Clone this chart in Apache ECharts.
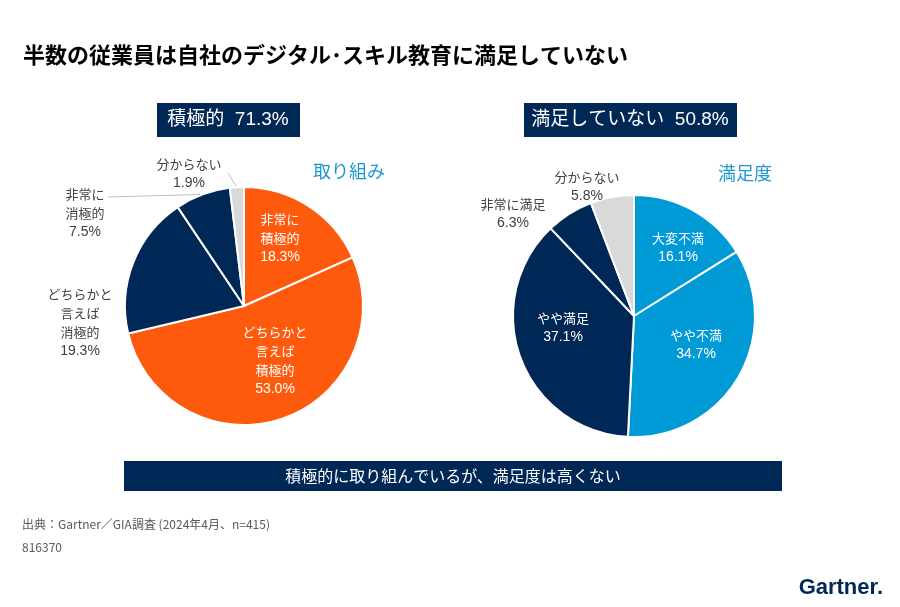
<!DOCTYPE html>
<html>
<head>
<meta charset="utf-8">
<script src="https://cdn.jsdelivr.net/npm/echarts@6/dist/echarts.min.js"></script>
<style>
  html, body { margin: 0; padding: 0; background: #fff; }
  #chart { width: 900px; height: 607px; }
</style>
</head>
<body>
<div id="chart"></div>
<script>
// 取り組み (left pie), clockwise from 12 o'clock
let effortNames = ['非常に\n積極的', 'どちらかと\n言えば\n積極的', 'どちらかと\n言えば\n消極的', '非常に\n消極的', '分からない'];
let effortValues = [18.3, 53.0, 19.3, 7.5, 1.9];

// 満足度 (right pie)
let satisNames = ['大変不満', 'やや不満', 'やや満足', '非常に満足', '分からない'];
let satisValues = [16.1, 34.7, 37.1, 6.3, 5.8];

let effortHeader = '積極的  71.3%';
let satisHeader = '満足していない  50.8%';

const ORANGE = '#FE5A0E';
const NAVY = '#002856';
const BLUE = '#009AD7';
const GRAY = '#D9D9D9';
const LABEL_GRAY = '#404040';
const FONT = '"Noto Sans CJK JP", "Noto Sans", sans-serif';
const MIXED = '"Liberation Sans", "Noto Sans CJK JP", sans-serif';

// colours / label placement per slice (layout only, not data)
let effortColors = [ORANGE, ORANGE, NAVY, NAVY, GRAY];
let effortInside = [true, true, false, false, false];
let effortLabelPos = [[280, 238], [275, 361], [80, 323], [85, 213], [189, 174]];
// leader line start (label side) for the slices that have one
let effortLineFrom = [null, null, null, [108, 197], [228, 173]];

let satisColors = [BLUE, BLUE, NAVY, NAVY, GRAY];
let satisInside = [true, true, true, false, false];
let satisLabelPos = [[678, 248], [696, 345], [563, 328], [513, 214], [587, 187]];
let satisLineFrom = [null, null, null, null, null];

function buildData(names, values, colors, inside, lineFrom) {
    let out = [];
    for (let i = 0; i < names.length; i++) {
        let c = inside[i] ? '#fff' : LABEL_GRAY;
        out.push({
            name: names[i],
            value: values[i],
            itemStyle: { color: colors[i] },
            label: { rich: { n: { color: c }, v: { color: c } } },
            labelLine: { show: !!lineFrom[i] }
        });
    }
    return out;
}

// point on the outer edge at the middle of slice i
function edgePoint(values, i, center, radius) {
    let total = values.reduce((a, b) => a + b, 0);
    let before = 0;
    for (let k = 0; k < i; k++) before += values[k];
    let ang = (before + values[i] / 2) / total * Math.PI * 2;
    return [center[0] + radius * Math.sin(ang), center[1] - radius * Math.cos(ang)];
}

function pieSeries(name, center, radius, values, data, labelPos, lineFrom) {
    return {
        name: name,
        type: 'pie',
        center: center,
        radius: radius,
        startAngle: 90,
        clockwise: true,
        animation: false,
        silent: true,
        itemStyle: { borderColor: '#fff', borderWidth: 2 },
        label: {
            show: true,
            position: 'outside',
            align: 'center',
            lineHeight: 19,
            formatter: p => p.name.split('\n').map(s => '{n|' + s + '}').join('\n') +
                '\n{v|' + p.value.toFixed(1) + '%}',
            rich: {
                n: { fontFamily: FONT, fontSize: 13, lineHeight: 19, align: 'center' },
                v: { fontFamily: MIXED, fontSize: 14, lineHeight: 19, align: 'center' }
            }
        },
        labelLine: {
            show: false,
            lineStyle: { color: '#BFBFBF', width: 1 }
        },
        labelLayout: function (params) {
            let i = params.dataIndex;
            let pos = labelPos[i];
            let res = { x: pos[0], y: pos[1], align: 'center', verticalAlign: 'middle' };
            if (lineFrom[i]) {
                let e = edgePoint(values, i, center, radius);
                res.labelLinePoints = [lineFrom[i], lineFrom[i], e];
            }
            return res;
        },
        data: data
    };
}

let chart = echarts.init(document.getElementById('chart'));
chart.setOption({
    backgroundColor: '#fff',
    animation: false,
    graphic: [
        {
            type: 'text', left: 23, top: 44,
            style: { text: '半数の従業員は自社のデジタル･スキル教育に満足していない', font: 'bold 22px ' + FONT, fill: '#000' }
        },
        { type: 'rect', shape: { x: 157, y: 103, width: 143, height: 34 }, style: { fill: NAVY } },
        {
            type: 'text', x: 228, y: 120,
            style: { text: effortHeader, font: '19px ' + MIXED, fill: '#fff', align: 'center', verticalAlign: 'middle' }
        },
        { type: 'rect', shape: { x: 524, y: 103, width: 213, height: 34 }, style: { fill: NAVY } },
        {
            type: 'text', x: 630, y: 120,
            style: { text: satisHeader, font: '19px ' + MIXED, fill: '#fff', align: 'center', verticalAlign: 'middle' }
        },
        {
            type: 'text', x: 349, y: 171,
            style: { text: '取り組み', font: '18px ' + FONT, fill: '#1F97D4', align: 'center', verticalAlign: 'middle' }
        },
        {
            type: 'text', x: 745, y: 173,
            style: { text: '満足度', font: '18px ' + FONT, fill: '#1F97D4', align: 'center', verticalAlign: 'middle' }
        },
        { type: 'rect', shape: { x: 124, y: 461, width: 658, height: 30 }, style: { fill: NAVY } },
        {
            type: 'text', x: 453, y: 476,
            style: { text: '積極的に取り組んでいるが、満足度は高くない', font: '16px ' + FONT, fill: '#fff', align: 'center', verticalAlign: 'middle' }
        },
        {
            type: 'text', x: 22, y: 524,
            style: { text: '出典：Gartner／GIA調査 (2024年4月、n=415)', font: '12px ' + FONT, fill: '#595959', verticalAlign: 'middle' }
        },
        {
            type: 'text', x: 22, y: 547,
            style: { text: '816370', font: '12px ' + FONT, fill: '#595959', verticalAlign: 'middle' }
        },
        {
            type: 'text', x: 883, y: 588,
            style: { text: 'Gartner.', font: 'bold 22px "Liberation Sans", Arial, sans-serif', fill: NAVY, align: 'right', verticalAlign: 'middle' }
        }
    ],
    series: [
        pieSeries('取り組み', [244, 306], 119, effortValues,
            buildData(effortNames, effortValues, effortColors, effortInside, effortLineFrom), effortLabelPos, effortLineFrom),
        pieSeries('満足度', [634, 316], 121, satisValues,
            buildData(satisNames, satisValues, satisColors, satisInside, satisLineFrom), satisLabelPos, satisLineFrom)
    ]
});
</script>
</body>
</html>
